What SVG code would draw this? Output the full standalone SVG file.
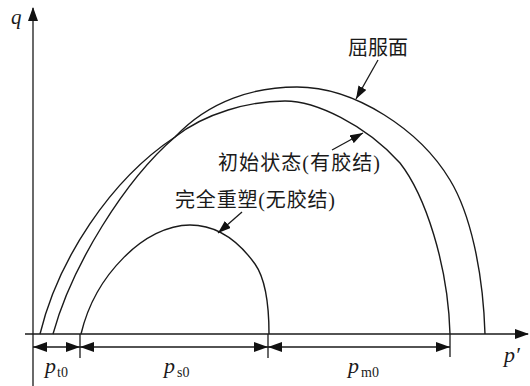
<svg xmlns="http://www.w3.org/2000/svg" width="530" height="386" viewBox="0 0 530 386">
  <style>
    .ln { fill: none; stroke: #1a1a1a; stroke-width: 1.3; }
    .cv { fill: none; stroke: #1a1a1a; stroke-width: 1.4; }
    .cn { font-family: "Liberation Serif", "Noto Sans CJK SC", serif; font-size: 20px; fill: #1a1a1a; }
    .it { font-family: "Liberation Serif", serif; font-style: italic; font-size: 22px; fill: #1a1a1a; }
    .sb { font-family: "Liberation Serif", serif; font-size: 14px; fill: #1a1a1a; }
  </style>
  <defs>
    <marker id="axh" viewBox="0 0 14 10" refX="13" refY="5" markerWidth="14" markerHeight="10" orient="auto" markerUnits="userSpaceOnUse">
      <path d="M0,0 L14,5 L0,10 z" fill="#111"/>
    </marker>
    <marker id="dh" viewBox="0 0 14 10" refX="14" refY="5" markerWidth="14" markerHeight="10" orient="auto-start-reverse" markerUnits="userSpaceOnUse">
      <path d="M0,0 L14,5 L0,10 z" fill="#111"/>
    </marker>
    <marker id="lh" viewBox="0 0 13 9" refX="13" refY="4.5" markerWidth="13" markerHeight="9" orient="auto" markerUnits="userSpaceOnUse">
      <path d="M0,0 L13,4.5 L0,9 z" fill="#111"/>
    </marker>
  </defs>

  <g id="axes">
    <line class="ln" x1="33" y1="386" x2="33" y2="8" marker-end="url(#axh)"/>
    <line class="ln" x1="25" y1="334" x2="528" y2="334" marker-end="url(#axh)"/>
    <text class="it" x="11" y="24" style="font-size:21px">q</text>
    <text class="it" x="504" y="362">p′</text>
  </g>

  <g id="yield-surface">
    <path class="cv" d="M53,334 C72,265 125,180 175,137 C210,100 255,87 297,87 C355,87 420,130 450,180 C470,213 483,270 485,334"/>
  </g>
  <g id="initial-state">
    <path class="cv" d="M40,334 C58,260 110,180 175,137 C205,113 250,101 285,101 C315,101 365,124 400,163 C425,195 448,264 450,334"/>
  </g>
  <g id="remoulded">
    <path class="cv" d="M81,334 C95,275 145,225 190,225 C216,225 237,239 255,264 C267,281 269,310 269,334"/>
  </g>

  <g id="label-yield">
    <text class="cn" x="348" y="55" textLength="60" lengthAdjust="spacing">屈服面</text>
  </g>
  <g id="label-initial">
    <text class="cn" x="218" y="170" textLength="162" lengthAdjust="spacing">初始状态(有胶结)</text>
  </g>
  <g id="label-remoulded">
    <text class="cn" x="175" y="207" textLength="160" lengthAdjust="spacing">完全重塑(无胶结)</text>
  </g>

  <g id="connectors">
    <line class="ln" x1="378" y1="60" x2="356" y2="99" marker-end="url(#lh)"/>
    <line class="ln" x1="332" y1="150" x2="363" y2="133" marker-end="url(#lh)"/>
    <line class="ln" x1="242" y1="212" x2="218" y2="233" marker-end="url(#lh)"/>
  </g>

  <g id="dimensions">
    <line class="ln" x1="80" y1="334" x2="80" y2="358"/>
    <line class="ln" x1="268" y1="334" x2="268" y2="358"/>
    <line class="ln" x1="450" y1="334" x2="450" y2="357"/>
    <line class="ln" x1="33" y1="347" x2="80" y2="347" marker-start="url(#dh)" marker-end="url(#dh)"/>
    <line class="ln" x1="80" y1="347" x2="268" y2="347" marker-start="url(#dh)" marker-end="url(#dh)"/>
    <line class="ln" x1="268" y1="347" x2="450" y2="347" marker-start="url(#dh)" marker-end="url(#dh)"/>
    <text class="it" x="45" y="373">p</text><text class="sb" x="57" y="377">t0</text>
    <text class="it" x="164" y="373">p</text><text class="sb" x="177" y="377">s0</text>
    <text class="it" x="348" y="373">p</text><text class="sb" x="361" y="377">m0</text>
  </g>
</svg>
